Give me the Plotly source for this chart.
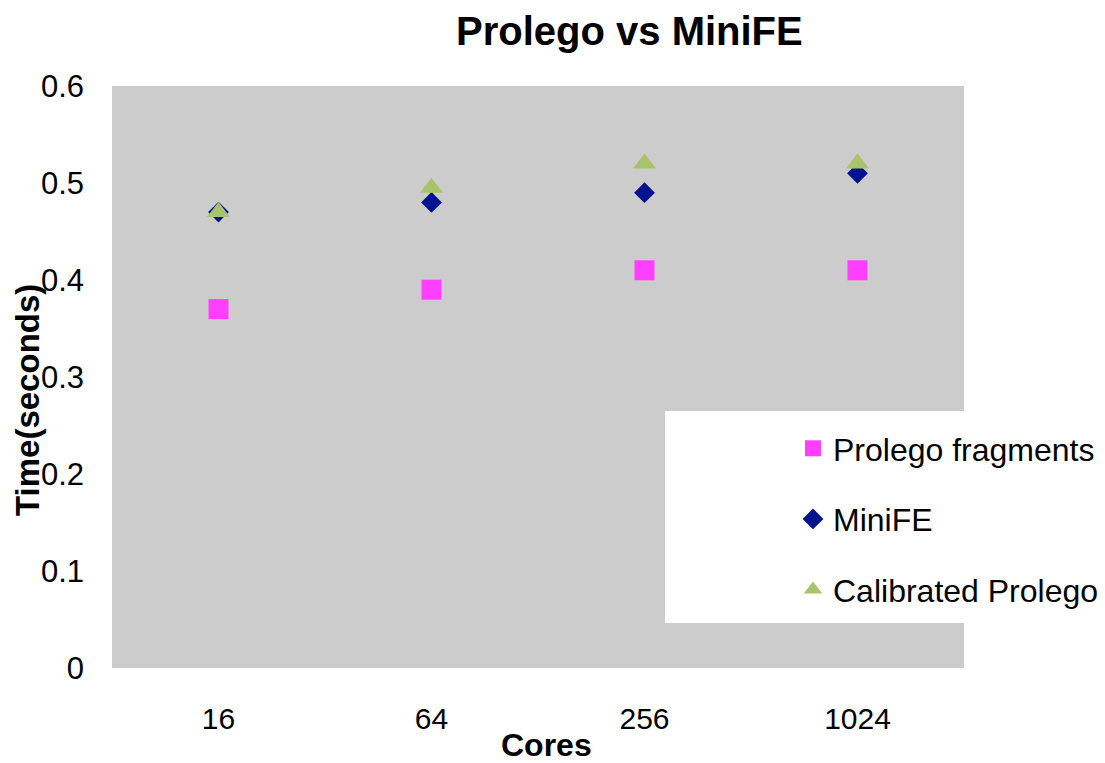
import plotly.graph_objects as go

cores = ["16", "64", "256", "1024"]
prolego_fragments = [0.37, 0.39, 0.41, 0.41]
minife = [0.47, 0.48, 0.49, 0.51]
calibrated_prolego = [0.47, 0.495, 0.52, 0.52]

W, H = 1105, 763
L, R, T, B = 112, 964, 86, 668  # plot area in pixels
PW, PH = R - L, B - T

def px(x):
    return (x - L) / PW

def py(y):
    return (B - y) / PH

FONT = "Liberation Sans, Arial, sans-serif"

fig = go.Figure()
fig.add_trace(go.Scatter(
    x=cores, y=prolego_fragments, mode="markers", name="Prolego fragments",
    legendgroup="a",
    marker=dict(symbol="square", size=20, color="#FF3FFF", line=dict(width=0)),
))
fig.add_trace(go.Scatter(
    x=cores, y=minife, mode="markers", name="MiniFE",
    legendgroup="b",
    marker=dict(symbol="diamond", size=16, color="#00138F", line=dict(width=0)),
))
fig.add_trace(go.Scatter(
    x=cores, y=calibrated_prolego, mode="markers", name="Calibrated Prolego",
    legendgroup="c",
    marker=dict(symbol="triangle-up", size=20, color="#A8C36C", line=dict(width=0)),
))

fig.update_layout(
    width=W, height=H,
    margin=dict(l=L, r=W - R, t=T, b=H - B, pad=0, autoexpand=False),
    paper_bgcolor="white",
    plot_bgcolor="#CCCCCC",
    font=dict(family=FONT, size=30, color="black"),
    showlegend=True,
    legend=dict(
        x=px(793), y=py(421), xanchor="left", yanchor="top",
        bgcolor="rgba(0,0,0,0)", borderwidth=0,
        font=dict(family=FONT, size=32, color="black"),
        tracegroupgap=26, traceorder="grouped",
    ),
    xaxis=dict(
        type="category", range=[-0.5, 3.5], showgrid=False, zeroline=False,
        showline=False, ticks="", ticklabelstandoff=30,
        tickfont=dict(family=FONT, size=30),
    ),
    yaxis=dict(
        range=[0, 0.6], dtick=0.1, showgrid=False, zeroline=False,
        showline=False, ticks="", ticklabelstandoff=27,
        tickfont=dict(family=FONT, size=31),
    ),
    shapes=[dict(
        type="rect", xref="paper", yref="paper",
        x0=px(665), x1=1.0, y0=py(623), y1=py(411),
        fillcolor="white", line=dict(width=0), layer="below",
    )],
    annotations=[
        dict(text="<b>Prolego vs MiniFE</b>", xref="paper", yref="paper",
             x=px(629), y=py(31), xanchor="center", yanchor="middle",
             showarrow=False, font=dict(family=FONT, size=40, color="black")),
        dict(text="<b>Time(seconds)</b>", xref="paper", yref="paper",
             x=px(27), y=py(400), xanchor="center", yanchor="middle",
             textangle=-90, showarrow=False,
             font=dict(family=FONT, size=33, color="black")),
        dict(text="<b>Cores</b>", xref="paper", yref="paper",
             x=px(546), y=py(745), xanchor="center", yanchor="middle",
             showarrow=False, font=dict(family=FONT, size=32, color="black")),
    ],
)

fig.write_html("out.html", config={"displayModeBar": False},
               post_script="document.body.style.margin='0';")
